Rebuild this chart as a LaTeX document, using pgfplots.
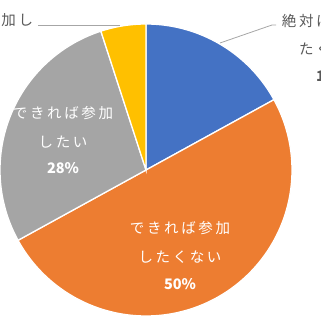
\documentclass[border=0pt]{standalone}
\usepackage{pgfplots}
\usepackage{pgfplotstable}
\pgfplotsset{compat=1.18}
\usepackage{fontspec}
\newfontfamily\jp[LetterSpace=18]{Noto Sans CJK JP}
\newfontfamily\jpn{Noto Sans CJK JP}
\definecolor{cblue}{HTML}{4472C4}
\definecolor{corange}{HTML}{ED7D31}
\definecolor{cgrey}{HTML}{A5A5A5}
\definecolor{cyellow}{HTML}{FFC000}
\definecolor{ctext}{HTML}{595959}
\pgfplotstableread{
label value
A 17
B 50
C 28
D 5
}\piedata
\begin{document}
\begin{tikzpicture}
\pgfplotstablegetelem{0}{value}\of\piedata \let\va\pgfplotsretval
\pgfplotstablegetelem{1}{value}\of\piedata \let\vb\pgfplotsretval
\pgfplotstablegetelem{2}{value}\of\piedata \let\vc\pgfplotsretval
\pgfplotstablegetelem{3}{value}\of\piedata \let\vd\pgfplotsretval
\pgfmathsetmacro\aA{90}
\pgfmathsetmacro\aB{90-3.6*\va}
\pgfmathsetmacro\aC{90-3.6*(\va+\vb)}
\pgfmathsetmacro\aD{90-3.6*(\va+\vb+\vc)}
\pgfmathsetmacro\aE{90-3.6*(\va+\vb+\vc+\vd)}
\path[use as bounding box] (0,0) rectangle (320pt,320pt);
\clip (0,0) rectangle (320pt,320pt);
\begin{axis}[at={(0,0)}, anchor=south west, scale only axis,
  width=320pt, height=320pt, xmin=-146, xmax=174, ymin=-150, ymax=170,
  hide axis, clip=false]
\addplot[fill=cblue, draw=white, line width=1.3pt, domain=\aB:\aA, samples=80] ({146*cos(x)},{146*sin(x)}) -- (0,0) -- cycle;
\addplot[fill=corange, draw=white, line width=1.3pt, domain=\aC:\aB, samples=160] ({146*cos(x)},{146*sin(x)}) -- (0,0) -- cycle;
\addplot[fill=cgrey, draw=white, line width=1.3pt, domain=\aD:\aC, samples=100] ({146*cos(x)},{146*sin(x)}) -- (0,0) -- cycle;
\addplot[fill=cyellow, draw=white, line width=1.3pt, domain=\aE:\aD, samples=30] ({146*cos(x)},{146*sin(x)}) -- (0,0) -- cycle;
% leader lines
\addplot[draw=gray!70, line width=0.8pt] coordinates {(-26,145) (-108,145)};
\addplot[draw=gray!70, line width=0.8pt] coordinates {(74,127) (126,145) (130,145)};
% outside labels
\node[text=ctext, font=\fontsize{14.5}{17}\selectfont\jp] at (axis cs:-163,150) {絶対に参加し};
\node[text=ctext, font=\fontsize{14.5}{17}\selectfont\jp] at (axis cs:-163,121) {たい};
\node[text=ctext, font=\fontsize{14.5}{17}\selectfont\jpn\bfseries] at (axis cs:-163,94) {5\%};
\node[text=ctext, font=\fontsize{14.5}{17}\selectfont\jp] at (axis cs:186,149) {絶対に参加し};
\node[text=ctext, font=\fontsize{14.5}{17}\selectfont\jp] at (axis cs:186,121) {たくない};
\node[text=ctext, font=\fontsize{14.5}{17}\selectfont\jpn\bfseries] at (axis cs:186,94) {17\%};
% inside labels
\node[text=white, font=\fontsize{14.5}{17}\selectfont\jp] at (axis cs:-83,57) {できれば参加};
\node[text=white, font=\fontsize{14.5}{17}\selectfont\jp] at (axis cs:-83,28) {したい};
\node[text=white, font=\fontsize{14.5}{17}\selectfont\jpn\bfseries] at (axis cs:-83,2) {28\%};
\node[text=white, font=\fontsize{14.5}{17}\selectfont\jp] at (axis cs:34,-58) {できれば参加};
\node[text=white, font=\fontsize{14.5}{17}\selectfont\jp] at (axis cs:34,-87) {したくない};
\node[text=white, font=\fontsize{14.5}{17}\selectfont\jpn\bfseries] at (axis cs:34,-114) {50\%};
\end{axis}
\end{tikzpicture}
\end{document}
